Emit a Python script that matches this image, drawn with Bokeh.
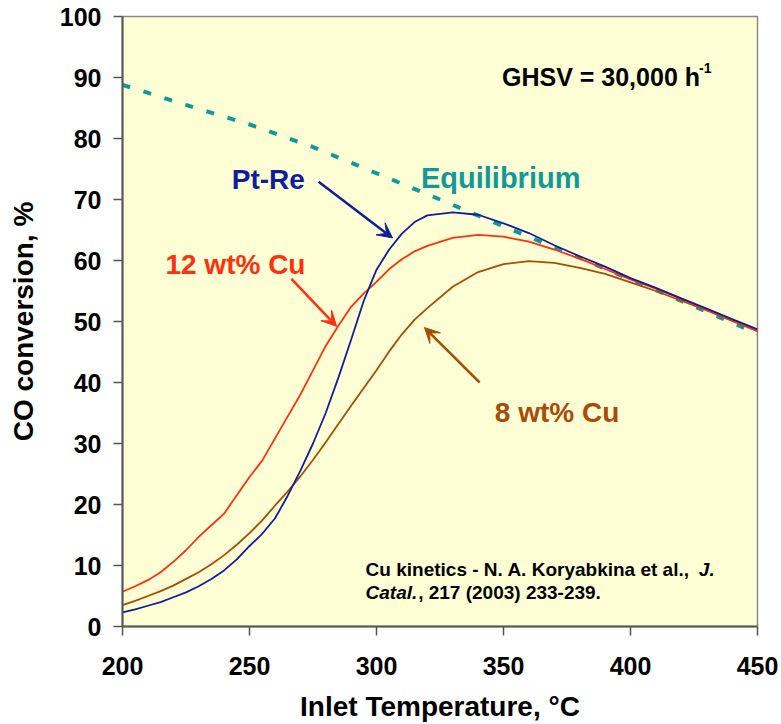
from bokeh.plotting import figure
from bokeh.models import ColumnDataSource, Label, Arrow, VeeHead, FixedTicker, Range1d
from bokeh.embed import file_html
from bokeh.resources import INLINE

# ---------------- data ----------------
temps = [200, 205, 210, 215, 220, 225, 230, 235, 240, 245, 250, 255, 260, 265, 270, 275,
         280, 285, 290, 295, 300, 305, 310, 315, 320,
         330, 340, 350, 360, 370, 380, 390, 400, 410, 420, 430, 440, 450]
pt_re = [2.3, 2.8, 3.4, 4.0, 4.8, 5.6, 6.6, 7.8, 9.2, 11.0, 13.2, 15.2, 17.7, 21.4, 25.5, 30.0,
         35.0, 40.8, 47.0, 53.4, 58.5, 61.8, 64.4, 66.3, 67.4,
         67.9, 67.5, 66.1, 64.5, 62.5, 60.7, 59.0, 57.1, 55.5, 53.8, 52.1, 50.4, 48.7]
cu12 = [5.7, 6.6, 7.6, 8.9, 10.6, 12.5, 14.7, 16.6, 18.5, 21.5, 24.5, 27.2, 30.8, 34.4, 38.0, 42.0,
        46.0, 49.3, 52.4, 54.6, 56.5, 58.6, 60.2, 61.5, 62.4,
        63.7, 64.2, 63.9, 63.1, 61.8, 60.3, 58.6, 56.9, 55.4, 53.7, 51.9, 50.2, 48.4]
cu8 = [3.5, 4.2, 5.0, 5.8, 6.7, 7.8, 8.9, 10.2, 11.7, 13.4, 15.3, 17.4, 19.8, 22.1, 24.6, 27.3,
       30.2, 33.2, 36.2, 39.1, 42.0, 45.1, 47.9, 50.3, 52.2,
       55.7, 58.1, 59.4, 59.9, 59.6, 58.8, 57.8, 56.4, 55.0, 53.4, 51.8, 50.1, 48.4]
eq_temps = [200, 225, 250, 275, 300, 325, 350, 375, 400, 425, 450]
equilibrium = [88.8, 85.5, 82.3, 78.6, 74.3, 70.0, 65.6, 61.3, 56.9, 52.5, 48.0]

x_ticks = [200, 250, 300, 350, 400, 450]
y_ticks = [0, 10, 20, 30, 40, 50, 60, 70, 80, 90, 100]

C_PT = "#0F1E9C"
C_12 = "#FF3010"
C_8 = "#A84C08"
C_EQ = "#10999A"
FONT = "Liberation Sans"

p = figure(width=781, height=724, output_backend="svg", toolbar_location=None,
           x_range=Range1d(200, 450), y_range=Range1d(0, 100),
           min_border_left=122, min_border_right=24, min_border_top=16,
           min_border_bottom=96)
p.background_fill_color = "#FFFFD5"
p.border_fill_color = "white"
p.outline_line_color = "#8A8A8A"
p.outline_line_width = 1.5
p.grid.visible = False

for ax in (p.xaxis, p.yaxis):
    ax.major_label_text_font = FONT
    ax.major_label_text_font_style = "bold"
    ax.major_label_text_font_size = "25px"
    ax.major_label_text_color = "black"
    ax.major_tick_out = 9
    ax.major_tick_in = 0
    ax.minor_tick_out = 0
    ax.minor_tick_in = 0
    ax.axis_line_color = "#555555"
    ax.axis_line_width = 2
    ax.major_tick_line_color = "#555555"
    ax.major_tick_line_width = 1.5
    ax.axis_label_text_font = FONT
    ax.axis_label_text_font_style = "bold"
    ax.axis_label_text_font_size = "28px"
    ax.axis_label_text_color = "black"

p.xaxis.ticker = FixedTicker(ticks=x_ticks)
p.yaxis.ticker = FixedTicker(ticks=y_ticks)
p.yaxis.major_label_standoff = 12
p.xaxis.major_label_standoff = 21
p.yaxis.axis_label = "CO conversion, %"
p.yaxis.axis_label_standoff = 18
p.xaxis.axis_label = "Inlet Temperature, \u00b0C"
p.xaxis.axis_label_standoff = 13

src = ColumnDataSource(dict(t=temps, pt=pt_re, c12=cu12, c8=cu8))
eq_src = ColumnDataSource(dict(t=eq_temps, eq=equilibrium))

p.line("t", "eq", source=eq_src, line_color=C_EQ, line_width=4,
       line_dash="8 14", line_cap="butt")
p.line("t", "c8", source=src, line_color=C_8, line_width=1.8)
p.line("t", "c12", source=src, line_color=C_12, line_width=1.8)
p.line("t", "pt", source=src, line_color=C_PT, line_width=1.8)

def lab(x, y, text, color="black", size="28px", style="bold"):
    p.add_layout(Label(x=x, y=y, text=text, text_color=color, text_font=FONT,
                       text_font_size=size, text_font_style=style,
                       text_align="left", text_baseline="alphabetic"))

lab(243.0, 73.2, "Pt-Re", C_PT)
lab(317.5, 73.6, "Equilibrium", C_EQ, size="29px")
lab(216.9, 59.3, "12 wt% Cu", C_12)
lab(346.6, 35.1, "8 wt% Cu", C_8)
lab(349.4, 90.1, "GHSV = 30,000 h", size="25px")
lab(427.0, 91.6, "-1", size="14px")

lab(295.7, 9.3, "Cu kinetics - N. A. Koryabkina et al., ", size="19px")
lab(426.9, 9.3, "J.", size="19px", style="bold italic")
lab(295.7, 5.5, "Catal.", size="19px", style="bold italic")
lab(316.4, 5.5, " , 217 (2003) 233-239.", size="19px")

def arrow(x0, y0, x1, y1, c):
    p.add_layout(Arrow(end=VeeHead(size=15, line_color=c, fill_color=c, line_width=1),
                       x_start=x0, y_start=y0, x_end=x1, y_end=y1,
                       line_color=c, line_width=2.5))

arrow(277.2, 72.9, 306.3, 63.7, C_PT)
arrow(266.5, 57.0, 284.3, 49.2, C_12)
arrow(340.6, 40.0, 318.9, 49.0, C_8)

open("out.html", "w").write(file_html(p, INLINE))
